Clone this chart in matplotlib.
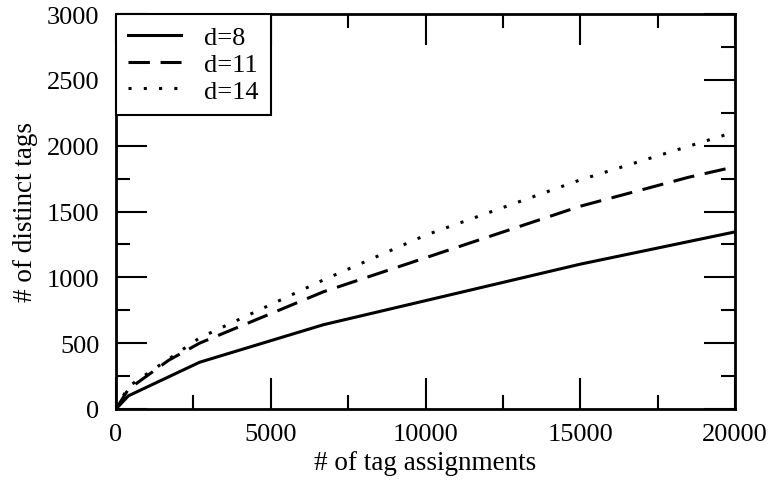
import matplotlib
matplotlib.use('Agg')
import matplotlib.pyplot as plt
from matplotlib.ticker import MultipleLocator

plt.rcParams['font.family'] = 'Liberation Serif'

# values
x8 = [0, 400, 2700, 6700, 15000, 20000]
y8 = [0, 100, 355, 640, 1100, 1345]

x11 = [0, 400, 1700, 2700, 6700, 15000, 18500, 20000]
y11 = [0, 150, 370, 500, 890, 1540, 1760, 1840]

x14 = [0, 400, 2700, 6700, 10000, 15000, 20000]
y14 = [0, 170, 540, 980, 1320, 1740, 2105]

fig = plt.figure(figsize=(7.72, 4.85), dpi=100)
ax = fig.add_axes([116/772, 1 - 410/485, (735-116)/772, (410-15)/485])

ax.plot(x8, y8, color='black', lw=2.2, ls='-', label='d=8')
ax.plot(x11, y11, color='black', lw=2.2, ls=(0, (7, 3.5)), label='d=11')
ax.plot(x14, y14, color='black', lw=2.2, ls=(0, (1, 4)), label='d=14')

ax.set_xlim(0, 20000)
ax.set_ylim(0, 3000)
ax.xaxis.set_major_locator(MultipleLocator(5000))
ax.xaxis.set_minor_locator(MultipleLocator(2500))
ax.yaxis.set_major_locator(MultipleLocator(500))
ax.yaxis.set_minor_locator(MultipleLocator(250))
ax.tick_params(which='both', direction='in', top=True, right=True, labelsize=19, width=1.5)
ax.tick_params(axis='x', which='both', pad=10)
ax.tick_params(axis='y', which='both', pad=12)
ax.tick_params(which='major', length=22)
ax.tick_params(which='minor', length=10)
for s in ax.spines.values():
    s.set_linewidth(2)

ax.set_xlabel('# of tag assignments', fontsize=19.5, labelpad=4)
ax.set_ylabel('# of distinct tags', fontsize=19.5, labelpad=6)

leg = ax.legend(loc='upper left', fontsize=19, frameon=True, fancybox=False,
                framealpha=1, borderaxespad=0, handlelength=2.0, handletextpad=0.9,
                borderpad=0.45, labelspacing=0.12)
leg.get_frame().set_edgecolor('black')
leg.get_frame().set_linewidth(1.5)

fig.savefig('out.png', dpi=100)
